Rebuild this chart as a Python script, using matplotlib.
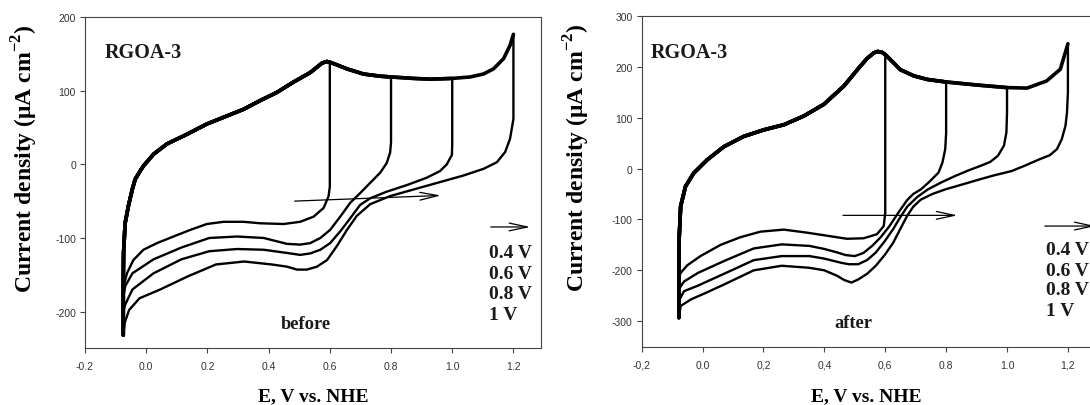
import matplotlib.pyplot as plt
import numpy as np

plt.rcParams['font.family'] = 'Liberation Sans'
plt.rcParams['axes.unicode_minus'] = False
plt.rcParams['mathtext.fontset'] = 'custom'
plt.rcParams['mathtext.rm'] = 'Liberation Serif'
plt.rcParams['mathtext.bf'] = 'Liberation Serif:bold'

# ---- RGOA-3, before: forward (anodic) branch shared by all loops
e_fwd_before = [-0.075, -0.075, -0.074, -0.069, -0.058, -0.045, -0.036, -0.02, -0.009, 0.024,
                0.068, 0.133, 0.198, 0.264, 0.318, 0.373, 0.427, 0.481, 0.536, 0.56, 0.575,
                0.59, 0.6, 0.62, 0.656, 0.71, 0.765, 0.8, 0.874, 0.928, 1.0, 1.059, 1.102,
                1.135, 1.168, 1.189, 1.2]
j_fwd_before = [-232, -160, -120, -80, -56, -33, -20, -9, -2, 14,
                28, 41, 55, 66, 75, 87, 98, 112, 125, 133, 138,
                140, 139, 136, 130, 123, 120, 119, 117, 116, 117, 119, 123,
                130, 144, 162, 177]

# reverse (cathodic) branches, one per switching potential
e_rev_before = {
    0.6: [0.6, 0.6, 0.596, 0.58, 0.547, 0.503, 0.449, 0.373, 0.318, 0.253, 0.198, 0.144,
          0.089, 0.035, -0.009, -0.042, -0.063, -0.074],
    0.8: [0.8, 0.8, 0.797, 0.786, 0.765, 0.732, 0.699, 0.667, 0.634, 0.601, 0.569, 0.536,
          0.503, 0.46, 0.384, 0.297, 0.206, 0.115, 0.024, -0.045, -0.068, -0.075],
    1.0: [1.0, 1.0, 0.999, 0.982, 0.96, 0.917, 0.852, 0.786, 0.732, 0.699, 0.667, 0.634,
          0.601, 0.569, 0.536, 0.503, 0.471, 0.384, 0.297, 0.206, 0.115, 0.024, -0.045,
          -0.068, -0.075],
    1.2: [1.2, 1.2, 1.189, 1.173, 1.146, 1.102, 1.037, 0.96, 0.874, 0.797, 0.732, 0.688,
          0.656, 0.623, 0.591, 0.558, 0.525, 0.493, 0.46, 0.41, 0.32, 0.228, 0.137, 0.046,
          -0.022, -0.056, -0.07, -0.075],
}
j_rev_before = {
    0.6: [139, -30, -43, -59, -71, -78, -81, -80, -78, -78, -81, -89,
          -98, -107, -116, -130, -148, -166],
    0.8: [119, 30, 16, 2, -11, -25, -39, -52, -71, -89, -100, -107,
          -109, -108, -100, -98, -100, -113, -129, -148, -165, -180],
    1.0: [117, 27, 13, 0, -9, -18, -28, -37, -46, -55, -73, -91,
          -107, -116, -121, -123, -121, -116, -115, -118, -129, -148, -170,
          -190, -200],
    1.2: [177, 62, 35, 17, 3, -6, -15, -24, -34, -43, -54, -70,
          -89, -111, -130, -139, -143, -143, -139, -136, -132, -136, -152, -170,
          -182, -198, -215, -232],
}

# ---- RGOA-3, after
e_fwd_after = [-0.078, -0.078, -0.077, -0.072, -0.056, -0.029, 0.015, 0.07, 0.135, 0.201,
               0.267, 0.332, 0.398, 0.464, 0.518, 0.54, 0.562, 0.575, 0.59, 0.6, 0.62, 0.65,
               0.694, 0.738, 0.8, 0.902, 1.0, 1.066, 1.13, 1.175, 1.2]
j_fwd_after = [-293, -200, -139, -74, -35, -9, 17, 43, 63, 76,
               86, 103, 126, 162, 201, 216, 227, 230, 228, 224, 212, 194,
               182, 175, 170, 164, 159, 158, 172, 195, 245]

e_rev_after = {
    0.6: [0.6, 0.6, 0.595, 0.573, 0.529, 0.474, 0.409, 0.343, 0.267, 0.19, 0.124, 0.059,
          -0.007, -0.05, -0.072, -0.078],
    0.8: [0.8, 0.8, 0.797, 0.788, 0.775, 0.745, 0.717, 0.692, 0.672, 0.645, 0.614, 0.585,
          0.557, 0.528, 0.5, 0.47, 0.443, 0.4, 0.351, 0.26, 0.168, 0.077, -0.015, -0.061,
          -0.078],
    1.0: [1.0, 1.0, 0.998, 0.99, 0.97, 0.945, 0.912, 0.872, 0.832, 0.785, 0.74, 0.705,
          0.672, 0.648, 0.626, 0.598, 0.569, 0.54, 0.511, 0.48, 0.454, 0.4, 0.351, 0.26,
          0.168, 0.077, -0.015, -0.061, -0.078],
    1.2: [1.2, 1.2, 1.197, 1.192, 1.18, 1.164, 1.14, 1.106, 1.06, 1.015, 0.96, 0.912,
          0.855, 0.797, 0.755, 0.717, 0.692, 0.672, 0.65, 0.626, 0.598, 0.569, 0.54, 0.511,
          0.489, 0.465, 0.443, 0.4, 0.351, 0.26, 0.168, 0.077, 0.008, -0.038, -0.072, -0.078],
}
j_rev_after = {
    0.6: [224, -87, -113, -129, -137, -138, -132, -126, -120, -124, -135, -150,
          -172, -190, -205, -215],
    0.8: [170, 70, 38, 12, -8, -26, -41, -50, -62, -85, -113, -135,
          -152, -166, -172, -170, -165, -158, -152, -149, -157, -180, -205, -222,
          -237],
    1.0: [159, 110, 71, 45, 25, 13, 5, -4, -14, -27, -41, -56,
          -75, -97, -119, -143, -165, -180, -188, -188, -185, -177, -172, -172,
          -180, -205, -230, -241, -260],
    1.2: [245, 150, 110, 84, 58, 38, 26, 18, 6, -5, -13, -21,
          -31, -41, -50, -61, -75, -93, -118, -146, -170, -191, -207, -218,
          -224, -219, -211, -200, -195, -191, -200, -226, -245, -257, -270, -293],
}

window_labels = ['0.4 V', '0.6 V', '0.8 V', '1 V']

serif = 'Liberation Serif'
fig = plt.figure(figsize=(10.9, 4.06), dpi=100)
ax1 = fig.add_axes([0.078, 0.1397, 0.4183, 0.815])
ax2 = fig.add_axes([0.5887, 0.1436, 0.4469, 0.815])


def draw_loops(ax, e_fwd, j_fwd, e_rev, j_rev):
    e_fwd = np.array(e_fwd)
    j_fwd = np.array(j_fwd)
    for es in e_rev:
        keep = e_fwd <= es + 1e-9
        ax.plot(e_fwd[keep], j_fwd[keep], color='black', lw=2.6,
                solid_joinstyle='round', solid_capstyle='round')
        ax.plot(e_rev[es], j_rev[es], color='black', lw=1.7,
                solid_joinstyle='round', solid_capstyle='round')


def style_axes(ax, ylim, yticks, xlim, xticklabels):
    ax.set_xlim(*xlim)
    ax.set_ylim(*ylim)
    ax.set_yticks(yticks)
    ax.set_xticks([-0.2, 0.0, 0.2, 0.4, 0.6, 0.8, 1.0, 1.2])
    ax.set_xticklabels(xticklabels)
    ax.tick_params(direction='out', length=3.5, width=0.8, labelsize=7.5,
                   labelcolor='#333333', color='#444444', top=False, right=False)
    ax.tick_params(axis='x', pad=6)
    ax.tick_params(axis='y', pad=3)
    for s in ax.spines.values():
        s.set_linewidth(0.8)
        s.set_color('#444444')
    ax.set_xlabel('E, V vs. NHE', fontfamily=serif, fontweight='bold', fontsize=14)
    ax.set_ylabel('Current density (μA cm$^{\\mathbf{-2}}$)', fontfamily=serif,
                  fontweight='bold', fontsize=17)


draw_loops(ax1, e_fwd_before, j_fwd_before, e_rev_before, j_rev_before)
draw_loops(ax2, e_fwd_after, j_fwd_after, e_rev_after, j_rev_after)

style_axes(ax1, (-250, 200), [-200, -100, 0, 100, 200], (-0.2, 1.29),
           ['-0.2', '0.0', '0.2', '0.4', '0.6', '0.8', '1.0', '1.2'])
style_axes(ax2, (-350, 300), [-300, -200, -100, 0, 100, 200, 300], (-0.2, 1.4),
           ['-0,2', '0.0', '0,2', '0,4', '0,6', '0.8', '1.0', '1,2'])

ax1.yaxis.set_label_coords(-0.099, 0.576)
ax1.xaxis.set_label_coords(0.5, -0.117)
ax2.yaxis.set_label_coords(-0.102, 0.575)
ax2.xaxis.set_label_coords(0.46, -0.122)

txt = dict(fontfamily=serif, fontweight='bold', color='#1a1a1a')
head = dict(arrowstyle='->,head_length=1.3,head_width=0.28', lw=0.9, color='black')

# before panel annotations
ax1.text(-0.137, 153, 'RGOA-3', fontsize=14.5, va='center', **txt)
ax1.text(0.52, -216, 'before', fontsize=13.3, ha='center', va='center', **txt)
for k, lab in enumerate(window_labels):
    ax1.text(1.119, [-120, -148, -176, -204][k], lab, fontsize=14, va='center', **txt)
ax1.annotate('', xy=(0.972, -42), xytext=(0.476, -50), arrowprops=head)
ax1.annotate('', xy=(1.264, -85), xytext=(1.117, -85), arrowprops=head)

# after panel annotations
ax2.text(-0.17, 228, 'RGOA-3', fontsize=14.5, va='center', **txt)
ax2.text(0.496, -302, 'after', fontsize=13.3, ha='center', va='center', **txt)
for k, lab in enumerate(window_labels):
    ax2.text(1.128, [-160, -200, -238, -278][k], lab, fontsize=14, va='center', **txt)
ax2.annotate('', xy=(0.846, -92), xytext=(0.452, -92), arrowprops=head)
ax2.annotate('', xy=(1.3, -113), xytext=(1.115, -113), annotation_clip=False,
             arrowprops=head)

fig.savefig('out.png', dpi=100)
